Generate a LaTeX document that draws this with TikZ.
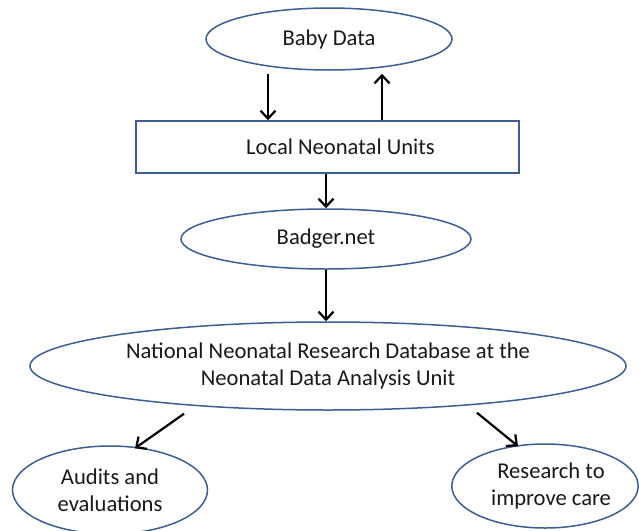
\documentclass[tikz,border=0pt]{standalone}
\usepackage{fontspec}
\setmainfont{Carlito}
\usetikzlibrary{shapes.geometric,arrows.meta}
\definecolor{outl}{RGB}{60,95,145}
\definecolor{txt}{RGB}{25,25,25}
\tikzset{
  oval/.style={ellipse, draw=outl, line width=1.5pt, inner sep=0pt, align=center, text=txt, font=\fontsize{22.6}{27}\selectfont},
  box/.style={rectangle, draw=outl, line width=1.5pt, inner sep=0pt, align=center, text=txt, font=\fontsize{22.6}{27}\selectfont},
  arr/.style={line width=2.2pt, -{Straight Barb[length=8pt,width=15pt]}}
}
\begin{document}
\begin{tikzpicture}[x=1pt,y=-1pt]
\useasboundingbox (0,0) rectangle (639,530);
\node[oval, minimum width=246pt, minimum height=62pt] (baby) at (329,39) {Baby Data};
\node[box, minimum width=383pt, minimum height=52pt] (local) at (327.5,147) {\hspace*{26pt}Local Neonatal Units};
\node[oval, minimum width=290pt, minimum height=60pt] (badger) at (326,239) {Badger.net};
\node[oval, minimum width=596pt, minimum height=88pt] (nnrd) at (328,366) {National Neonatal Research Database at the\\Neonatal Data Analysis Unit};
\node[oval, minimum width=195pt, minimum height=88pt] (audits) at (110,490) {Audits and\\evaluations};
\node[oval, minimum width=185pt, minimum height=84pt] (research) at (545,486) {\hspace*{12pt}Research to\\\hspace*{12pt}improve care};
\draw[arr] ([xshift=-61pt,yshift=-3pt]baby.south) -- ([xshift=-61pt]baby.south |- local.north);
\draw[arr] ([xshift=53pt]baby.south |- local.north) -- ([xshift=53pt,yshift=-3pt]baby.south);
\draw[arr] (local.south -| badger.north) -- (badger.north);
\draw[arr] (badger.south) -- (badger.south |- nnrd.north);
\draw[arr] ([xshift=-144pt,yshift=-3pt]nnrd.south) -- ([xshift=25pt,yshift=-3pt]audits.north);
\draw[arr] ([xshift=149pt,yshift=-2pt]nnrd.south) -- ([xshift=-27pt,yshift=-3pt]research.north);
\end{tikzpicture}
\end{document}
